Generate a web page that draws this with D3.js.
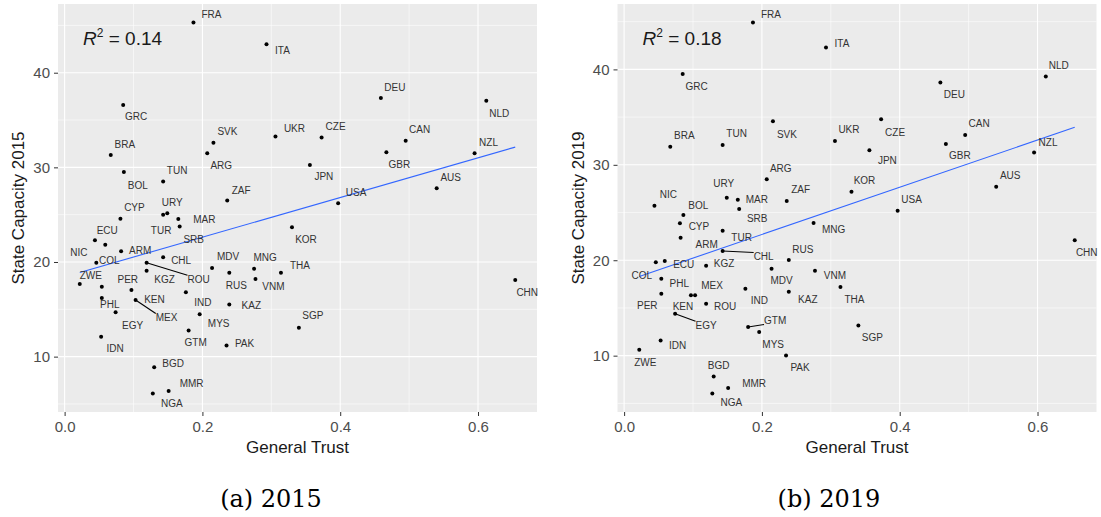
<!DOCTYPE html>
<html>
<head>
<meta charset="utf-8">
<script src="https://cdn.jsdelivr.net/npm/d3@7"></script>
<style>
body { margin: 0; background: #fff; }
text { font-family: "Liberation Sans", Arial, sans-serif; }
</style>
</head>
<body>
<svg id="chart" width="1101" height="517"></svg>
<script>
// data
const countries = ['FRA','ITA','GRC','BRA','BOL','TUN','SVK','ARG','ZAF','URY','TUR','MAR','SRB','CYP',
  'NIC','ECU','ARM','COL','ROU','KGZ','CHL','MDV','MNG','VNM','THA','RUS','KAZ','KOR','ZWE','PER','PHL',
  'KEN','MEX','EGY','IND','MYS','GTM','PAK','IDN','BGD','NGA','MMR','SGP','CHN','DEU','NLD','UKR','CZE',
  'CAN','GBR','NZL','JPN','AUS','USA'];
const trust = [0.187,0.293,0.085,0.067,0.086,0.143,0.216,0.207,0.236,0.149,0.143,0.165,0.167,0.081,
  0.044,0.059,0.082,0.046,0.119,0.119,0.143,0.214,0.275,0.277,0.314,0.239,0.239,0.330,0.022,0.054,0.054,
  0.097,0.103,0.074,0.176,0.196,0.180,0.235,0.053,0.130,0.128,0.151,0.340,0.654,0.459,0.612,0.306,0.373,
  0.495,0.467,0.595,0.356,0.540,0.397];
const capacity2015 = [45.3,43.0,36.6,31.3,29.5,28.5,32.6,31.5,26.5,25.15,25.0,24.55,23.74,24.58,
  22.3,21.83,21.13,19.93,19.93,19.08,20.5,19.37,19.29,18.2,18.87,18.87,15.52,23.67,17.67,17.39,16.19,
  17.04,15.99,14.68,16.8,14.47,12.77,11.19,12.1,8.89,6.11,6.38,13.05,18.1,37.32,37.04,33.26,33.15,
  32.8,31.6,31.5,30.26,27.8,26.2];
const capacity2019 = [44.91,42.29,39.53,31.9,24.74,32.08,34.57,28.49,26.21,26.56,23.1,26.35,25.37,23.87,
  25.72,19.92,22.36,19.78,15.44,19.42,20.97,19.11,23.89,18.9,17.19,20.02,16.7,27.19,10.61,16.49,18.06,
  16.32,16.32,14.39,17.01,12.47,13.0,10.02,11.6,7.82,6.04,6.6,13.17,22.09,38.62,39.25,32.5,34.78,
  33.13,32.19,31.28,31.53,27.71,25.19];
const years = ['2015', '2019'];
const r2Values = ['0.14', '0.18'];
const captions = ['(a) 2015', '(b) 2019'];
const xTicks = [0, 0.2, 0.4, 0.6];
const yTicks = [10, 20, 30, 40];

// where ggrepel put each label, as [dx, dy] in px from its point
const labelOffsets = {
  '2015': {FRA:[18,-8],ITA:[16,6],GRC:[13,12],BRA:[14,-11],BOL:[14,13],TUN:[14,-11],SVK:[14,-11],
    ARG:[14,12],ZAF:[14,-10],URY:[5,-11],CYP:[14,-11],MAR:[26,1],TUR:[-2,16],SRB:[14,13],ECU:[2,-14],
    NIC:[-16,12],ARM:[19,-1],COL:[13,-2],CHL:[18,3],MDV:[16,-11],MNG:[11,-11],ZWE:[11,-9],PER:[26,-7],
    KGZ:[18,9],ROU:[52,17],RUS:[7,13],VNM:[18,7],THA:[19,-7],KOR:[14,12],KEN:[23,9],PHL:[8,6],
    IND:[17,10],KAZ:[22,1],MEX:[31,18],EGY:[17,13],MYS:[19,9],GTM:[7,12],PAK:[18,-2],IDN:[14,12],
    SGP:[14,-12],BGD:[19,-4],MMR:[23,-7],NGA:[19,10],CHN:[12,13],DEU:[14,-11],NLD:[13,13],UKR:[19,-8],
    CZE:[14,-11],CAN:[14,-11],GBR:[13,12],NZL:[14,-11],JPN:[14,12],AUS:[14,-11],USA:[18,-11]},
  '2019': {FRA:[18,-8],ITA:[16,-4],GRC:[14,13],BRA:[14,-11],TUN:[14,-11],SVK:[14,13],ARG:[14,-11],
    URY:[-3,-14],MAR:[19,0],ZAF:[14,-11],NIC:[14,-11],BOL:[15,-10],SRB:[18,9],CYP:[19,3],TUR:[19,7],
    ARM:[26,7],CHL:[41,6],RUS:[14,-11],ECU:[19,3],KGZ:[18,-2],COL:[-14,13],MDV:[10,12],VNM:[20,5],
    PHL:[18,5],MEX:[17,-10],IND:[14,12],KAZ:[19,8],PER:[-14,12],KEN:[-8,11],ROU:[19,3],EGY:[31,12],
    GTM:[27,-7],MYS:[14,12],IDN:[17,5],ZWE:[6,13],PAK:[14,12],BGD:[5,-11],MMR:[26,-5],NGA:[19,9],
    NLD:[13,-11],DEU:[14,12],UKR:[14,-11],CZE:[14,13],CAN:[14,-11],GBR:[14,12],JPN:[18,10],NZL:[14,-10],
    KOR:[13,-11],AUS:[14,-11],USA:[14,-11],MNG:[20,6],THA:[14,12],SGP:[14,12],CHN:[12,12]}
};
const withSegment = {'2015': ['ROU','MEX'], '2019': ['CHL','EGY','GTM']};

const svg = d3.select('#chart');
const panels = [
  {year: years[0], values: capacity2015, r2: r2Values[0], caption: captions[0], left: 58, right: 537, capX: 271},
  {year: years[1], values: capacity2019, r2: r2Values[1], caption: captions[1], left: 617.5, right: 1096.5, capX: 829}
];
const panelTop = 4, panelBottom = 412;

// ggplot style 5% expansion
function expand(ext) {
  const pad = (ext[1] - ext[0]) * 0.05;
  return [ext[0] - pad, ext[1] + pad];
}

function minorBreaks(ticks, domain) {
  const step = ticks[1] - ticks[0];
  const out = [];
  for (let i = -1; i < ticks.length; i++) {
    const v = ticks[0] + step * i + step / 2;
    if (v > domain[0] && v < domain[1]) out.push(v);
  }
  return out;
}

function fit(xs, ys) {
  const mx = d3.mean(xs), my = d3.mean(ys);
  let sxy = 0, sxx = 0;
  xs.forEach((x, i) => { sxy += (x - mx) * (ys[i] - my); sxx += (x - mx) * (x - mx); });
  const b = sxy / sxx;
  return {a: my - b * mx, b: b};
}

panels.forEach(p => {
  const data = countries.map((c, i) => ({code: c, x: trust[i], y: p.values[i]}));
  const xDomain = expand(d3.extent(trust));
  const yDomain = expand(d3.extent(p.values));
  const xScale = d3.scaleLinear().domain(xDomain).range([p.left, p.right]);
  const yScale = d3.scaleLinear().domain(yDomain).range([panelBottom, panelTop]);

  const g = svg.append('g');

  // panel background
  g.append('rect')
    .attr('x', p.left).attr('y', panelTop)
    .attr('width', p.right - p.left).attr('height', panelBottom - panelTop)
    .attr('fill', '#EBEBEB');

  // minor grid
  minorBreaks(xTicks, xDomain).forEach(v => {
    g.append('line').attr('x1', xScale(v)).attr('x2', xScale(v)).attr('y1', panelTop).attr('y2', panelBottom)
      .attr('stroke', '#fff').attr('stroke-width', 0.55);
  });
  minorBreaks(yTicks, yDomain).forEach(v => {
    g.append('line').attr('y1', yScale(v)).attr('y2', yScale(v)).attr('x1', p.left).attr('x2', p.right)
      .attr('stroke', '#fff').attr('stroke-width', 0.55);
  });
  // major grid
  xTicks.forEach(v => {
    g.append('line').attr('x1', xScale(v)).attr('x2', xScale(v)).attr('y1', panelTop).attr('y2', panelBottom)
      .attr('stroke', '#fff').attr('stroke-width', 1.1);
  });
  yTicks.forEach(v => {
    g.append('line').attr('y1', yScale(v)).attr('y2', yScale(v)).attr('x1', p.left).attr('x2', p.right)
      .attr('stroke', '#fff').attr('stroke-width', 1.1);
  });

  // axes
  const xAxis = d3.axisBottom(xScale).tickValues(xTicks).tickFormat(d3.format('.1f'))
    .tickSize(4).tickPadding(5);
  const yAxis = d3.axisLeft(yScale).tickValues(yTicks).tickSize(4).tickPadding(4);
  const gx = g.append('g').attr('transform', 'translate(0,' + panelBottom + ')').call(xAxis);
  const gy = g.append('g').attr('transform', 'translate(' + p.left + ',0)').call(yAxis);
  [gx, gy].forEach(a => {
    a.select('.domain').remove();
    a.selectAll('.tick line').attr('stroke', '#333').attr('stroke-width', 1);
    a.selectAll('.tick text').attr('fill', '#4D4D4D').style('font-size', '15px')
      .style('font-family', '"Liberation Sans", Arial, sans-serif');
  });

  // axis titles
  g.append('text')
    .attr('x', (p.left + p.right) / 2).attr('y', 453)
    .attr('text-anchor', 'middle').attr('fill', '#1a1a1a').style('font-size', '17px')
    .text('General Trust');
  g.append('text')
    .attr('transform', 'translate(' + (p.left - 34) + ',' + ((panelTop + panelBottom) / 2) + ') rotate(-90)')
    .attr('text-anchor', 'middle').attr('fill', '#1a1a1a').style('font-size', '17px')
    .text('State Capacity ' + p.year);

  // regression line over the data range
  const f = fit(trust, p.values);
  const xr = d3.extent(trust);
  g.append('line')
    .attr('x1', xScale(xr[0])).attr('y1', yScale(f.a + f.b * xr[0]))
    .attr('x2', xScale(xr[1])).attr('y2', yScale(f.a + f.b * xr[1]))
    .attr('stroke', '#3366FF').attr('stroke-width', 1.1);

  // points
  g.selectAll('circle.pt').data(data).enter().append('circle')
    .attr('class', 'pt')
    .attr('cx', d => xScale(d.x)).attr('cy', d => yScale(d.y))
    .attr('r', 2).attr('fill', '#000');

  // labels
  const offs = labelOffsets[p.year];
  const labels = g.selectAll('text.lab').data(data).enter().append('text')
    .attr('class', 'lab')
    .attr('x', d => xScale(d.x) + offs[d.code][0])
    .attr('y', d => yScale(d.y) + offs[d.code][1])
    .attr('dy', '0.35em')
    .attr('text-anchor', 'middle')
    .attr('fill', '#333')
    .style('font-size', '10px')
    .text(d => d.code);

  // leader segments for labels pushed far from their points
  labels.filter(d => withSegment[p.year].includes(d.code)).each(function(d) {
    const bb = this.getBBox();
    const px = xScale(d.x), py = yScale(d.y);
    const ex = Math.max(bb.x, Math.min(px, bb.x + bb.width));
    const ey = Math.max(bb.y + 1, Math.min(py, bb.y + bb.height - 1));
    g.insert('line', 'circle.pt')
      .attr('x1', px).attr('y1', py).attr('x2', ex).attr('y2', ey)
      .attr('stroke', '#000').attr('stroke-width', 1.1);
  });

  // R squared annotation
  const r2 = g.append('text')
    .attr('x', p.left + 25).attr('y', 45)
    .attr('fill', '#1a1a1a').style('font-size', '19px');
  r2.append('tspan').style('font-style', 'italic').text('R');
  r2.append('tspan').attr('dy', -8).style('font-size', '12px').text('2');
  r2.append('tspan').attr('dy', 8).text(' = ' + p.r2);

  // sub-caption
  svg.append('text')
    .attr('x', p.capX).attr('y', 507)
    .attr('text-anchor', 'middle')
    .style('font-family', '"DejaVu Serif", serif').style('font-size', '24px')
    .attr('fill', '#000')
    .text(p.caption);
});
</script>
</body>
</html>
